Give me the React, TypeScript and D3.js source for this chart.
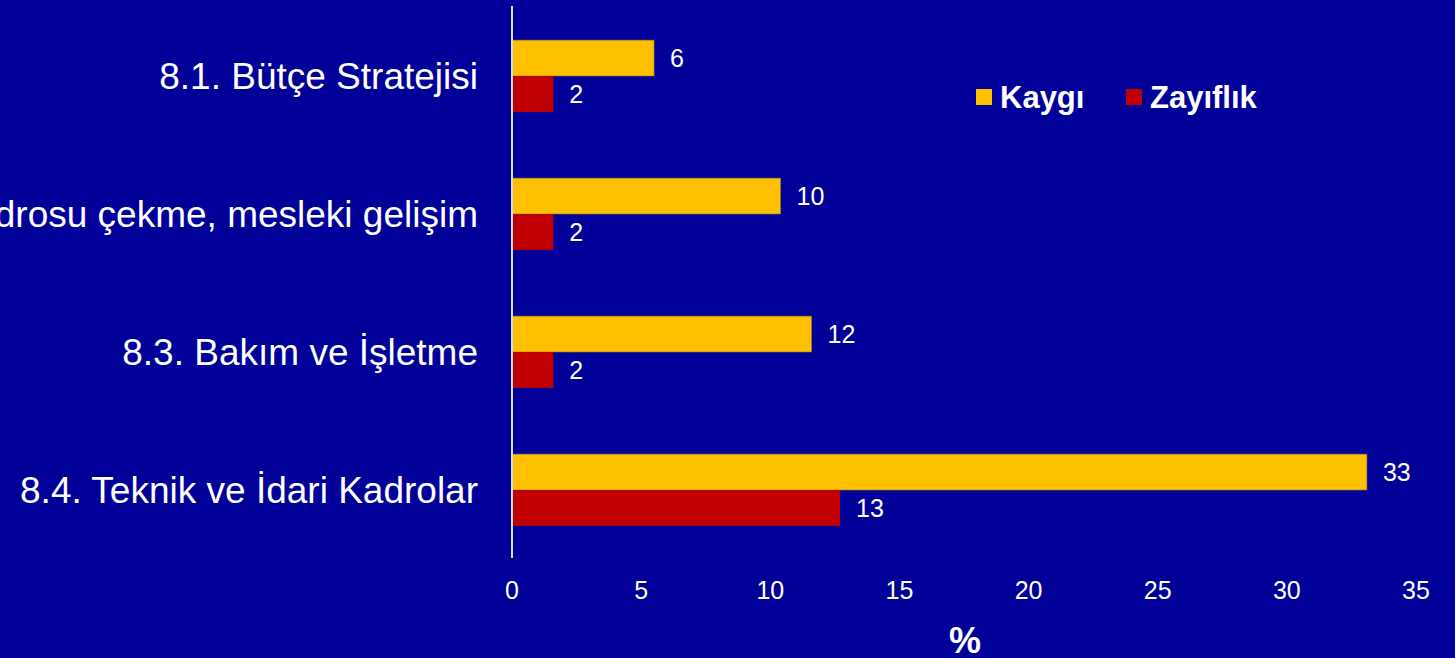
import React, { useRef, useEffect } from "react";
import * as d3 from "d3";

const categories = [
  "8.1. Bütçe Stratejisi",
  "8.2. Nitelikli Kadrosu çekme, mesleki gelişim",
  "8.3. Bakım ve İşletme",
  "8.4. Teknik ve İdari Kadrolar",
];
const kaygi = [5.5, 10.4, 11.6, 33.1];
const zayiflik = [1.6, 1.6, 1.6, 12.7];
const seriesNames = ["Kaygı", "Zayıflık"];
const xTicks = [0, 5, 10, 15, 20, 25, 30, 35];

const width = 1455;
const height = 658;
const bg = "#000099";
const colors = ["#FFC000", "#C00000"];
const font = "Arial, 'Liberation Sans', sans-serif";

const App: React.FC = () => {
  const svgRef = useRef<SVGSVGElement | null>(null);

  useEffect(() => {
    if (!svgRef.current) return;
    const svg = d3.select(svgRef.current);
    svg.selectAll("*").remove();

    svg.append("rect").attr("width", width).attr("height", height).attr("fill", bg);

    const x = d3.scaleLinear().domain([0, 35]).range([512, 1416]);
    const y = d3
      .scaleBand<string>()
      .domain(categories)
      .range([7, 559])
      .paddingInner(0.48)
      .paddingOuter(0.24);
    const inner = d3.scaleBand<number>().domain([0, 1]).range([0, y.bandwidth()]);

    const rows = categories.map((c, i) => ({ c, vals: [kaygi[i], zayiflik[i]] }));

    const g = svg.append("g");
    rows.forEach((r) => {
      r.vals.forEach((v, k) => {
        const yy = (y(r.c) as number) + (inner(k) as number);
        g.append("rect")
          .attr("x", x(0))
          .attr("y", yy)
          .attr("width", x(v) - x(0))
          .attr("height", inner.bandwidth())
          .attr("fill", colors[k])
          .attr("stroke", "#8a7a30")
          .attr("stroke-width", k === 0 ? 0.6 : 0);
        g.append("text")
          .attr("x", x(v) + 16)
          .attr("y", yy + inner.bandwidth() / 2)
          .attr("dy", "0.35em")
          .attr("fill", "#fff")
          .attr("font-family", font)
          .attr("font-size", 25)
          .text(d3.format(".0f")(v));
      });
      svg.append("text")
        .attr("x", 478)
        .attr("y", (y(r.c) as number) + y.bandwidth() / 2)
        .attr("dy", "0.35em")
        .attr("text-anchor", "end")
        .attr("fill", "#fff")
        .attr("font-family", font)
        .attr("font-size", 37)
        .text(r.c);
    });

    // axis line
    svg.append("line")
      .attr("x1", x(0)).attr("x2", x(0))
      .attr("y1", 6).attr("y2", 558)
      .attr("stroke", "#d8d8e0")
      .attr("stroke-width", 2);

    svg.append("g")
      .selectAll("text")
      .data(xTicks)
      .join("text")
      .attr("x", (d) => x(d))
      .attr("y", 599)
      .attr("text-anchor", "middle")
      .attr("fill", "#fff")
      .attr("font-family", font)
      .attr("font-size", 25)
      .text((d) => d);

    svg.append("text")
      .attr("x", 965)
      .attr("y", 653)
      .attr("text-anchor", "middle")
      .attr("fill", "#fff")
      .attr("font-family", font)
      .attr("font-weight", "bold")
      .attr("font-size", 36)
      .text("%");

    // legend
    const legendX = [976, 1126];
    seriesNames.forEach((name, k) => {
      svg.append("rect")
        .attr("x", legendX[k]).attr("y", 89)
        .attr("width", 16).attr("height", 16)
        .attr("fill", colors[k]);
      svg.append("text")
        .attr("x", legendX[k] + 24)
        .attr("y", 97)
        .attr("dy", "0.35em")
        .attr("fill", "#fff")
        .attr("font-family", font)
        .attr("font-weight", "bold")
        .attr("font-size", 31)
        .text(name);
    });
  }, []);

  return (
    <svg
      ref={svgRef}
      width={width}
      height={height}
      style={{ position: "absolute", left: 0, top: 0, display: "block" }}
    />
  );
};

export default App;
